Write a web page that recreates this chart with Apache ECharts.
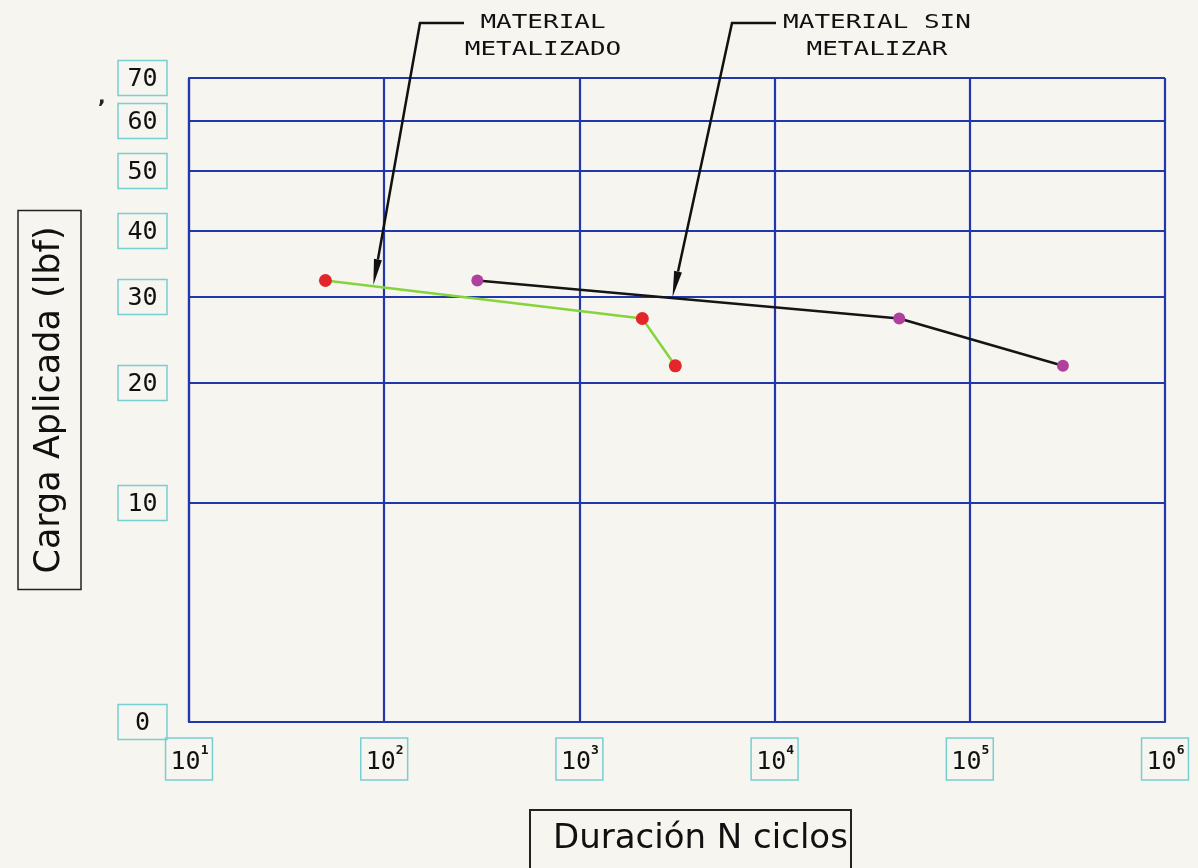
<!DOCTYPE html>
<html><head><meta charset="utf-8">
<script src="https://cdn.jsdelivr.net/npm/echarts@6/dist/echarts.min.js"></script>
<style>html,body{margin:0;padding:0;background:#f6f5ef}#c{width:1198px;height:868px}</style>
</head><body><div id="c"></div>
<script>
// ---- data ----
const yTickLabels = [0, 10, 20, 30, 40, 50, 60, 70];
// relative spacing of the original (non-uniform) load scale between successive ticks
const yAxisStops = [0, 219, 339, 425, 491, 551, 601, 644];
const xTickExponents = [1, 2, 3, 4, 5, 6];
const metalizadoN = [50, 2100, 3100];
const metalizadoLoad = [32.5, 27.5, 22];
const sinMetalizarN = [300, 43500, 300000];
const sinMetalizarLoad = [32.5, 27.5, 22];
const annotMetalizado = { text: 'MATERIAL\nMETALIZADO', n: 88, load: 31.8 };
const annotSin = { text: 'MATERIAL SIN\nMETALIZAR', n: 3000, load: 30 };

// ---- scale for the load axis (piecewise-linear between labelled ticks) ----
function warp(v) {
  for (let i = 0; i < yTickLabels.length - 1; i++) {
    const a = yTickLabels[i], b = yTickLabels[i + 1];
    if (v <= b || i === yTickLabels.length - 2) {
      return yAxisStops[i] + (v - a) / (b - a) * (yAxisStops[i + 1] - yAxisStops[i]);
    }
  }
}

const BLUE = '#2238aa';
const CYAN = '#78cfd2';
const MONO = '"DejaVu Sans Mono"';
const SANS = '"DejaVu Sans"';

const chart = echarts.init(document.getElementById('c'));
const tickPos = yTickLabels.map(warp);

chart.setOption({
  backgroundColor: '#f6f5ef',
  animation: false,
  grid: { left: 189, right: 33, top: 78, bottom: 146, outerBoundsMode: 'none', containLabel: false },
  xAxis: {
    type: 'log', logBase: 10,
    min: Math.pow(10, xTickExponents[0]), max: Math.pow(10, xTickExponents[xTickExponents.length - 1]),
    axisLine: { show: true, lineStyle: { color: BLUE, width: 2.2 } },
    axisTick: { show: false },
    splitLine: { show: true, lineStyle: { color: BLUE, width: 2.2 } },
    minorTick: { show: false }, minorSplitLine: { show: false },
    axisLabel: {
      margin: 16,
      formatter: v => '{b|10}{s|' + Math.round(Math.log10(v)) + '}',
      borderColor: CYAN, borderWidth: 1.5, padding: [6, 4, 5, 5],
      rich: {
        b: { fontFamily: MONO, fontSize: 25, lineHeight: 31, color: '#111', verticalAlign: 'bottom' },
        s: { fontFamily: MONO, fontSize: 13, fontWeight: 'bold', lineHeight: 12, verticalAlign: 'top', color: '#111' }
      }
    }
  },
  yAxis: {
    type: 'value', min: 0, max: yAxisStops[yAxisStops.length - 1],
    name: 'Carga Aplicada (lbf)', nameLocation: 'middle', nameRotate: 90, nameGap: 108,
    nameTextStyle: { fontFamily: SANS, fontSize: 35, color: '#111', borderColor: '#222', borderWidth: 1.5, padding: [14, 16, 14, 16] },
    axisLine: { show: true, lineStyle: { color: BLUE, width: 2.2 } },
    axisTick: { show: false, customValues: tickPos },
    splitLine: { show: true, lineStyle: { color: BLUE, width: 2.2 } },
    axisLabel: {
      margin: 22, customValues: tickPos,
      formatter: v => {
        const i = tickPos.findIndex(p => Math.abs(p - v) < 1e-6);
        return '{a|' + (i >= 0 ? yTickLabels[i] : '') + '}';
      },
      rich: {
        a: { fontFamily: MONO, fontSize: 25, color: '#111', width: 33, align: 'center', padding: [6, 8, 4, 8], borderColor: CYAN, borderWidth: 1.5 }
      }
    }
  },
  series: [
    {
      name: 'Material metalizado', type: 'line',
      data: metalizadoN.map((n, i) => [n, warp(metalizadoLoad[i])]),
      symbol: 'circle', symbolSize: 13,
      itemStyle: { color: '#e3262a' },
      lineStyle: { color: '#86d43c', width: 2.5 }, z: 3
    },
    {
      name: 'Material sin metalizar', type: 'line',
      data: sinMetalizarN.map((n, i) => [n, warp(sinMetalizarLoad[i])]),
      symbol: 'circle', symbolSize: 12,
      itemStyle: { color: '#b0409e' },
      lineStyle: { color: '#151515', width: 2.5 }, z: 3
    }
  ]
});

function arrow(tip, elbow, start) {
  const dx = tip[0] - elbow[0], dy = tip[1] - elbow[1];
  const L = Math.hypot(dx, dy), ux = dx / L, uy = dy / L;
  const len = 26, hw = 4;
  const base = [tip[0] - ux * len, tip[1] - uy * len];
  return [
    { type: 'polyline', shape: { points: [start, elbow, base] }, style: { stroke: '#111', lineWidth: 2.5, fill: null }, z: 10 },
    { type: 'polygon', shape: { points: [tip, [base[0] - uy * hw, base[1] + ux * hw], [base[0] + uy * hw, base[1] - ux * hw]] }, style: { fill: '#111' }, z: 10 }
  ];
}

const tip1 = chart.convertToPixel({ gridIndex: 0 }, [annotMetalizado.n, warp(annotMetalizado.load)]);
const tip2 = chart.convertToPixel({ gridIndex: 0 }, [annotSin.n, warp(annotSin.load)]);

chart.setOption({
  graphic: [
    ...arrow(tip1, [420, 23], [464, 23]),
    ...arrow(tip2, [732, 23], [776, 23]),
    { type: 'text', x: 543, y: 9, scaleX: 1.3, style: { text: annotMetalizado.text, font: '20px ' + MONO, align: 'center', lineHeight: 27, fill: '#111' }, z: 10 },
    { type: 'text', x: 877, y: 9, scaleX: 1.3, style: { text: annotSin.text, font: '20px ' + MONO, align: 'center', lineHeight: 27, fill: '#111' }, z: 10 },
    { type: 'rect', shape: { x: 530, y: 810, width: 321, height: 80 }, style: { stroke: '#222', lineWidth: 2, fill: null }, z: 10 },
    { type: 'text', x: 553, y: 839, style: { text: 'Duración N ciclos', font: '34px ' + SANS, verticalAlign: 'middle', fill: '#111' }, z: 10 },
    { type: 'text', x: 98, y: 88, style: { text: ',', font: 'bold 20px ' + SANS, fill: '#222' }, z: 10 }
  ]
});
</script>
</body></html>
